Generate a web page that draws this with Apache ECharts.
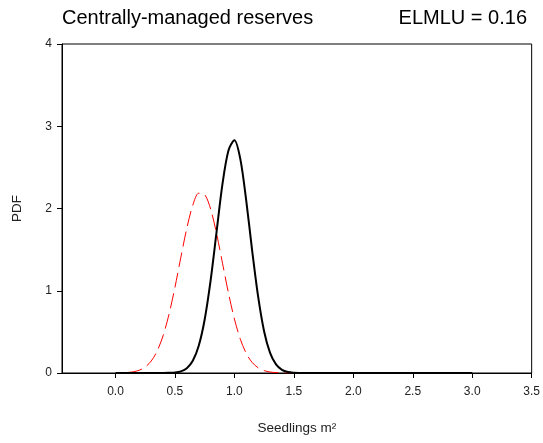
<!DOCTYPE html>
<html>
<head>
<meta charset="utf-8">
<script src="https://cdn.jsdelivr.net/npm/echarts@6/dist/echarts.min.js"></script>
<style>
  html, body { margin: 0; padding: 0; background: #fff; }
  #chart { width: 543px; height: 443px; }
</style>
</head>
<body>
<div id="chart"></div>
<script>
// values
var xTicks = [0, 0.5, 1.0, 1.5, 2.0, 2.5, 3.0, 3.5];

// solid black curve
var blackX = [0.0, 0.35, 0.40, 0.45, 0.50, 0.55, 0.60, 0.65, 0.70, 0.75, 0.80, 0.85, 0.90, 0.95,
  1.00, 1.05, 1.10, 1.15, 1.20, 1.25, 1.30, 1.35, 1.40, 1.45, 1.50, 1.55, 1.60, 3.0];
var blackY = [0.0, 0.0, 0.0004, 0.002, 0.006, 0.020, 0.058, 0.148, 0.331, 0.651, 1.127, 1.716, 2.302, 2.705,
  2.83, 2.600, 2.090, 1.480, 0.925, 0.505, 0.244, 0.104, 0.039, 0.013, 0.004, 0.001, 0.0, 0.0];

// dashed red curve
var redX = [0.10, 0.15, 0.20, 0.25, 0.30, 0.35, 0.40, 0.45, 0.50, 0.55, 0.60, 0.65, 0.70, 0.75,
  0.80, 0.85, 0.90, 0.95, 1.00, 1.05, 1.10, 1.15, 1.20, 1.25, 1.30, 1.35, 1.40, 1.45, 1.50];
var redY = [0.006, 0.015, 0.034, 0.073, 0.145, 0.266, 0.453, 0.714, 1.042, 1.409, 1.762, 2.040, 2.186, 2.170,
  1.993, 1.695, 1.334, 0.972, 0.656, 0.410, 0.237, 0.127, 0.063, 0.029, 0.012, 0.005, 0.002, 0.0, 0.0];

function pairs(xs, ys) {
  var out = [];
  for (var i = 0; i < xs.length; i++) out.push([xs[i], ys[i]]);
  return out;
}

var myChart = echarts.init(document.getElementById('chart'));
var font = 'Liberation Sans, Arial, sans-serif';
var option = {
  backgroundColor: '#fff',
  animation: false,
  title: [{
    text: 'Centrally-managed reserves',
    left: 62, top: 8, padding: 0,
    textStyle: { fontFamily: font, fontSize: 20, fontWeight: 'normal', color: '#000' }
  }, {
    text: 'ELMLU = 0.16',
    right: 16, top: 8, padding: 0,
    textStyle: { fontFamily: font, fontSize: 20, fontWeight: 'normal', color: '#000' }
  }],
  grid: {
    left: 62, top: 44, width: 470, height: 329,
    show: true, borderColor: '#000', borderWidth: 1, backgroundColor: 'transparent'
  },
  xAxis: {
    type: 'value',
    min: -0.45, max: 3.5,
    name: 'Seedlings m\u00b2',
    nameLocation: 'middle', nameGap: 48,
    nameTextStyle: { fontFamily: font, fontSize: 13.5, color: '#222' },
    axisLine: { show: true, onZero: false, lineStyle: { color: '#000', width: 1 } },
    axisTick: { show: true, length: 5, customValues: xTicks, lineStyle: { color: '#000' } },
    axisLabel: {
      customValues: xTicks, margin: 13,
      fontFamily: font, fontSize: 12, color: '#222',
      formatter: function(v) { return v.toFixed(1); }
    },
    splitLine: { show: false }
  },
  yAxis: {
    type: 'value',
    min: 0, max: 4, interval: 1,
    name: 'PDF',
    nameLocation: 'middle', nameGap: 38,
    nameTextStyle: { fontFamily: font, fontSize: 13.5, color: '#222' },
    axisLine: { show: true, onZero: false, lineStyle: { color: '#000', width: 1 } },
    axisTick: { show: true, length: 5, lineStyle: { color: '#000' } },
    axisLabel: { margin: 10, fontFamily: font, fontSize: 12, color: '#222' },
    splitLine: { show: false }
  },
  series: [{
    name: 'red',
    type: 'line',
    data: pairs(redX, redY),
    smooth: 0.3,
    showSymbol: false,
    lineStyle: { color: '#ff0000', width: 1, type: [15, 6] },
    z: 2
  }, {
    name: 'black',
    type: 'line',
    data: pairs(blackX, blackY),
    smooth: 0.3,
    showSymbol: false,
    lineStyle: { color: '#000', width: 2 },
    z: 3
  }]
};
myChart.setOption(option);
</script>
</body>
</html>
